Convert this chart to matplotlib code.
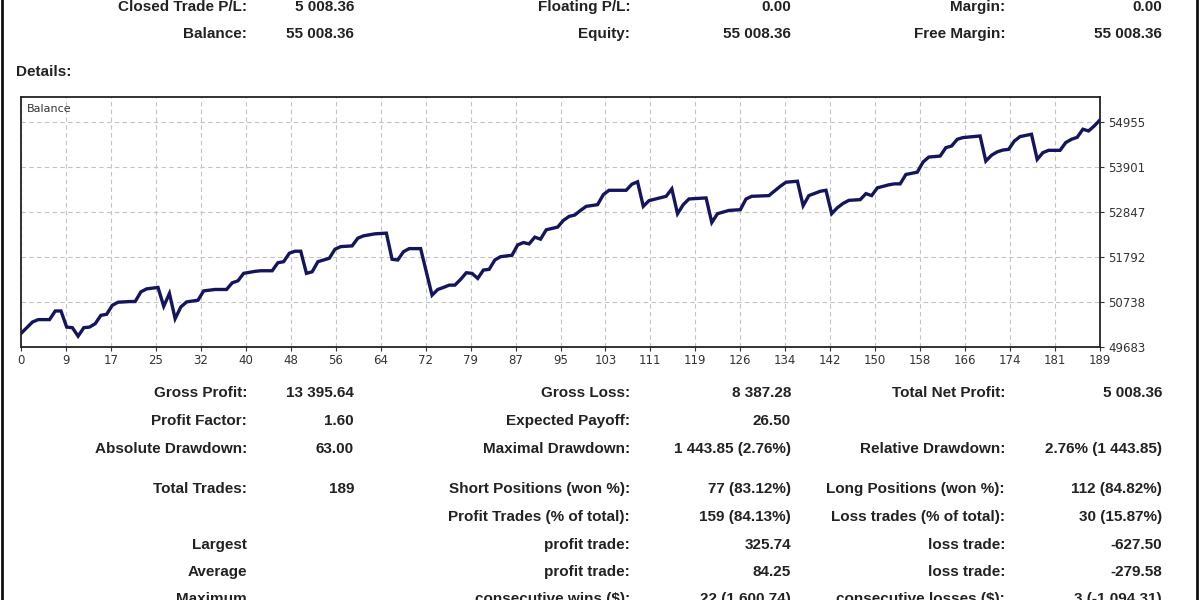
import matplotlib.pyplot as plt
import numpy as np
from matplotlib.lines import Line2D

# -----------------------
# DATA
# -----------------------

trade_no = [0, 2, 3, 5, 6, 7, 8, 9, 10, 11, 12, 13, 14, 15, 16, 17, 19, 20, 21, 22,
            24, 25, 26, 27, 28, 29, 31, 32, 34, 36, 37, 38, 39, 41, 42, 44, 45, 46, 47, 48,
            49, 50, 51, 52, 54, 55, 56, 58, 59, 60, 62, 64, 65, 66, 67, 68, 70, 72, 73, 74,
            75, 76, 77, 78, 79, 80, 81, 82, 83, 84, 86, 87, 88, 89, 90, 91, 92, 93, 94, 95,
            96, 97, 98, 99, 101, 102, 103, 106, 107, 108, 109, 110, 113, 114, 115, 116, 117, 120, 121, 122,
            124, 126, 127, 128, 131, 133, 134, 136, 137, 138, 140, 141, 142, 143, 144, 145, 147, 148, 149, 150,
            152, 153, 154, 155, 157, 158, 159, 161, 162, 163, 164, 165, 168, 169, 170, 171, 172, 173, 174, 175,
            177, 178, 179, 180, 182, 183, 184, 185, 186, 187, 188, 189]
balance = [50000, 50268, 50325, 50325, 50528, 50528, 50150, 50136, 49937, 50136, 50150, 50230, 50426, 50450, 50662, 50733, 50749, 50749, 50976, 51046,
           51080, 50638, 50938, 50348, 50622, 50740, 50780, 50999, 51032, 51032, 51188, 51235, 51410, 51457, 51471, 51471, 51660, 51683, 51882, 51929,
           51929, 51410, 51447, 51683, 51764, 51976, 52037, 52054, 52235, 52290, 52337, 52353, 51740, 51724, 51919, 51990, 51990, 50898, 51032, 51080,
           51134, 51134, 51268, 51424, 51410, 51292, 51488, 51504, 51724, 51801, 51834, 52077, 52132, 52101, 52259, 52212, 52431, 52462, 52495, 52651,
           52745, 52778, 52886, 52981, 53021, 53257, 53358, 53358, 53500, 53557, 52981, 53115, 53217, 53391, 52809, 53021, 53155, 53179, 52603, 52809,
           52886, 52903, 53155, 53217, 53233, 53453, 53547, 53571, 52997, 53233, 53335, 53358, 52809, 52950, 53050, 53122, 53139, 53280, 53233, 53415,
           53486, 53509, 53509, 53729, 53783, 54019, 54137, 54161, 54358, 54396, 54554, 54594, 54632, 54043, 54180, 54260, 54302, 54318, 54514, 54618,
           54672, 54083, 54241, 54295, 54295, 54477, 54554, 54600, 54790, 54750, 54868, 55008]

x_tick_labels = ["0", "9", "17", "25", "32", "40", "48", "56", "64", "72", "79", "87", "95",
                 "103", "111", "119", "126", "134", "142", "150", "158", "166", "174", "181", "189"]
y_ticks = [49683, 50738, 51792, 52847, 53901, 54955]

top_rows = [
    ("Closed Trade P/L:", "5 008.36", "Floating P/L:", "0.00", "Margin:", "0.00"),
    ("Balance:", "55 008.36", "Equity:", "55 008.36", "Free Margin:", "55 008.36"),
]
bottom_rows = [
    ("Gross Profit:", "13 395.64", "Gross Loss:", "8 387.28", "Total Net Profit:", "5 008.36"),
    ("Profit Factor:", "1.60", "Expected Payoff:", "26.50", "", ""),
    ("Absolute Drawdown:", "63.00", "Maximal Drawdown:", "1 443.85 (2.76%)", "Relative Drawdown:", "2.76% (1 443.85)"),
    ("Total Trades:", "189", "Short Positions (won %):", "77 (83.12%)", "Long Positions (won %):", "112 (84.82%)"),
    ("", "", "Profit Trades (% of total):", "159 (84.13%)", "Loss trades (% of total):", "30 (15.87%)"),
    ("Largest", "", "profit trade:", "325.74", "loss trade:", "-627.50"),
    ("Average", "", "profit trade:", "84.25", "loss trade:", "-279.58"),
    ("Maximum", "", "consecutive wins ($):", "22 (1 600.74)", "consecutive losses ($):", "3 (-1 094.31)"),
]

# -----------------------
# LAYOUT (pixels on a 1200x600 canvas)
# -----------------------

W, H = 1200, 600
col_right = [247, 354, 630, 791, 1005, 1162]
top_y = [7, 34]
bottom_y = [393, 421, 449, 489, 517, 545, 572, 599]
txt_style = dict(family="Liberation Sans", fontsize=11, fontweight="bold", color="#222222")

fig = plt.figure(figsize=(12, 6), dpi=100)
fig.patch.set_facecolor("white")


def put_row(y_px, row):
    for xr, s in zip(col_right, row):
        if s:
            fig.text(xr / W, 1 - y_px / H, s, ha="right", va="center", **txt_style)


for y_px, row in zip(top_y, top_rows):
    put_row(y_px, row)
for y_px, row in zip(bottom_y, bottom_rows):
    put_row(y_px, row)

fig.text(16 / W, 1 - 72 / H, "Details:", ha="left", va="center", **txt_style)

# -----------------------
# BALANCE CHART
# -----------------------

ax_l, ax_t, ax_r, ax_b = 21, 97, 1100, 347
ax = fig.add_axes([ax_l / W, 1 - ax_b / H, (ax_r - ax_l) / W, (ax_b - ax_t) / H])
ax.plot(trade_no, balance, color="#15155e", lw=2.4, solid_joinstyle="miter")

n_trades = int(x_tick_labels[-1])
x_pos = np.linspace(0, n_trades, len(x_tick_labels))
ax.set_xlim(0, n_trades)
step = y_ticks[1] - y_ticks[0]
ax.set_ylim(y_ticks[0], y_ticks[-1] + step * 0.56)
ax.set_xticks(x_pos)
ax.set_xticklabels(x_tick_labels)
ax.set_yticks(y_ticks)
ax.yaxis.tick_right()
ax.tick_params(axis="both", labelsize=8.5, colors="#333333", length=3, width=0.8)
ax.tick_params(axis="x", pad=2)
ax.tick_params(axis="y", pad=3)
for lab in ax.get_yticklabels():
    lab.set_va("center_baseline")
ax.grid(True, color="#c4c4c4", linestyle=(0, (4, 3)), linewidth=0.8)
for sp in ax.spines.values():
    sp.set_color("#222222")
    sp.set_linewidth(1.3)
ax.text(0.005, 0.97, "Balance", transform=ax.transAxes, ha="left", va="top",
        fontsize=8, color="#333333", family="DejaVu Sans")

# page borders
fig.add_artist(Line2D([1.5 / W, 1.5 / W], [0, 1], transform=fig.transFigure, color="#111111", lw=2))
fig.add_artist(Line2D([1197 / W, 1197 / W], [0, 1], transform=fig.transFigure, color="#111111", lw=2))

fig.savefig("out.png", dpi=100)
